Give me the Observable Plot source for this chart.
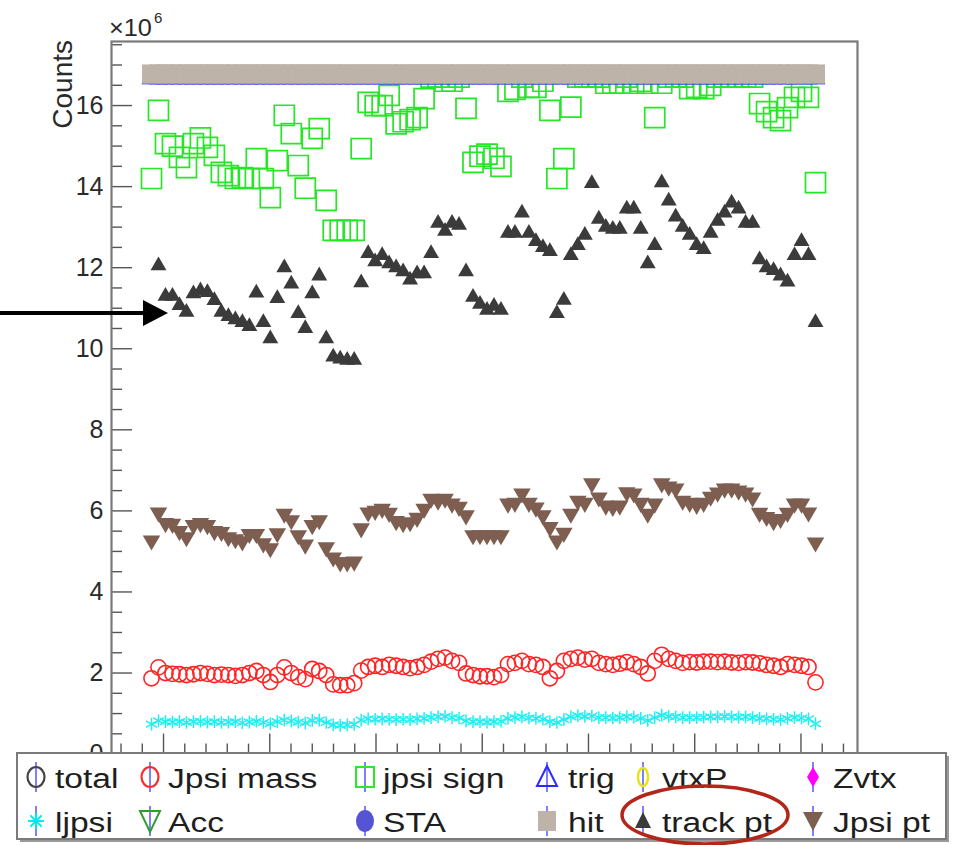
<!DOCTYPE html>
<html>
<head>
<meta charset="utf-8">
<script src="https://cdn.jsdelivr.net/npm/d3@7"></script>
<script src="https://cdn.jsdelivr.net/npm/@observablehq/plot@0.6"></script>
<style>
  html, body { margin: 0; padding: 0; background: #fff; }
  #wrap { position: relative; width: 959px; height: 845px; overflow: hidden; }
  #wrap > svg { position: absolute; left: 0; top: 0; }
</style>
</head>
<body>
<div id="wrap"></div>
<script>
// ---------- data (values in units of 10^6 counts), one entry per run index ----------
const runs = d3.range(96);

const trackPt = [null,12.05,11.3,11.3,11.07,10.9,11.36,11.43,11.39,11.19,
 10.9,10.8,10.72,10.65,10.55,11.38,10.65,10.25,11.24,12.0,
 11.6,10.87,10.5,11.36,11.8,10.25,9.8,9.75,9.72,9.72,
 11.63,12.35,12.15,12.3,12.1,12.0,11.9,11.7,11.85,11.85,
 12.35,13.1,12.9,13.1,13.05,11.9,11.27,11.1,10.95,11.05,
 10.95,12.85,12.85,13.35,12.85,12.65,12.5,12.4,10.87,11.2,
 12.3,12.55,12.8,14.08,13.2,13.0,12.95,12.95,13.45,13.45,
 12.95,12.1,12.55,14.1,13.65,13.25,13.0,12.8,12.55,12.45,
 12.85,13.15,13.35,13.6,13.45,13.1,13.1,12.2,12.0,11.93,
 11.8,11.65,12.3,12.65,12.3,10.65];

const jpsiPt = [5.27,5.96,5.7,5.68,5.5,5.35,5.65,5.7,5.65,5.5,
 5.48,5.35,5.3,5.25,5.43,5.43,5.2,5.08,5.45,5.93,
 5.77,5.4,5.17,5.65,5.77,5.1,4.85,4.73,4.73,4.75,
 5.57,5.96,6.0,6.05,5.95,5.75,5.7,5.72,5.83,6.05,
 6.3,6.25,6.3,6.18,6.1,5.89,5.4,5.4,5.4,5.4,
 5.4,6.18,6.2,6.43,6.2,6.08,5.89,5.6,5.27,5.46,
 5.93,6.25,6.2,6.68,6.33,6.13,6.1,6.13,6.46,6.43,
 6.2,5.93,6.18,6.68,6.6,6.55,6.25,6.2,6.15,6.2,
 6.35,6.45,6.55,6.55,6.5,6.45,6.33,5.95,5.85,5.75,
 5.8,5.95,6.18,6.18,5.96,5.22];

const jpsiSign = [14.2,15.88,15.06,15.0,14.72,14.47,15.06,15.2,14.97,14.77,
 14.35,14.27,14.2,14.22,14.2,14.69,14.2,13.73,14.64,15.76,
 15.31,14.52,13.96,15.19,15.43,13.66,12.92,12.92,12.92,12.92,
 14.94,16.08,16.0,16.0,16.25,15.55,15.6,15.65,15.7,16.17,
 16.7,16.7,16.6,16.6,16.7,15.93,14.6,14.75,14.8,14.7,
 14.5,16.35,16.4,16.7,16.45,16.45,16.6,15.88,14.2,14.69,
 15.96,16.7,16.7,16.7,16.7,16.55,16.55,16.55,16.7,16.55,
 16.6,16.55,15.7,16.55,16.7,16.7,16.7,16.42,16.45,16.42,
 16.5,16.7,16.7,16.7,16.7,16.7,16.7,16.05,15.85,15.7,
 15.63,15.95,16.2,16.35,16.2,14.1];

const jpsiMass = [1.87,2.14,2.0,1.98,1.97,1.95,1.97,2.0,1.98,1.95,
 1.96,1.95,1.93,1.95,2.0,2.05,1.95,1.78,1.95,2.14,
 2.0,1.9,1.85,2.1,2.05,1.95,1.72,1.7,1.7,1.75,
 2.06,2.15,2.18,2.15,2.2,2.18,2.15,2.12,2.15,2.2,
 2.28,2.35,2.38,2.3,2.25,1.99,1.95,1.92,1.92,1.9,
 1.95,2.22,2.25,2.3,2.22,2.2,2.15,1.87,2.05,2.3,
 2.35,2.38,2.33,2.35,2.25,2.22,2.2,2.23,2.27,2.22,
 2.15,1.99,2.3,2.45,2.35,2.3,2.25,2.27,2.26,2.28,
 2.28,2.27,2.28,2.26,2.25,2.27,2.26,2.24,2.2,2.18,
 2.15,2.22,2.2,2.18,2.15,1.77];

const ljpsi = [0.74,0.82,0.8,0.79,0.8,0.78,0.8,0.81,0.79,0.8,
 0.78,0.79,0.8,0.77,0.79,0.81,0.78,0.75,0.8,0.84,
 0.82,0.79,0.77,0.83,0.84,0.78,0.72,0.71,0.72,0.73,
 0.84,0.87,0.86,0.87,0.86,0.85,0.86,0.85,0.87,0.88,
 0.9,0.92,0.93,0.9,0.89,0.82,0.8,0.8,0.79,0.8,
 0.81,0.88,0.9,0.92,0.89,0.88,0.86,0.8,0.78,0.85,
 0.92,0.95,0.93,0.94,0.9,0.9,0.89,0.9,0.92,0.91,
 0.88,0.83,0.9,0.96,0.93,0.92,0.9,0.9,0.9,0.91,
 0.92,0.92,0.93,0.92,0.91,0.92,0.9,0.88,0.87,0.86,
 0.85,0.88,0.9,0.89,0.87,0.75];

// total / vtxP / Zvtx / Acc / STA / hit all sit on the same plateau
const eventCounts = [16.78,16.78,16.78,16.78,16.78,16.78,16.78,16.78,16.78,16.78,
 16.78,16.78,16.78,16.78,16.78,16.78,16.78,16.78,16.78,16.78,
 16.78,16.78,16.78,16.78,16.78,16.78,16.78,16.78,16.78,16.78,
 16.78,16.78,16.78,16.78,16.78,16.78,16.78,16.78,16.78,16.78,
 16.78,16.78,16.78,16.78,16.78,16.78,16.78,16.78,16.78,16.78,
 16.78,16.78,16.78,16.78,16.78,16.78,16.78,16.78,16.78,16.78,
 16.78,16.78,16.78,16.78,16.78,16.78,16.78,16.78,16.78,16.78,
 16.78,16.78,16.78,16.78,16.78,16.78,16.78,16.78,16.78,16.78,
 16.78,16.78,16.78,16.78,16.78,16.78,16.78,16.78,16.78,16.78,
 16.78,16.78,16.78,16.78,16.78,16.78];

const trigCounts = [16.67,16.67,16.67,16.67,16.67,16.67,16.67,16.67,16.67,16.67,
 16.67,16.67,16.67,16.67,16.67,16.67,16.67,16.67,16.67,16.67,
 16.67,16.67,16.67,16.67,16.67,16.67,16.67,16.67,16.67,16.67,
 16.67,16.67,16.67,16.67,16.67,16.67,16.67,16.67,16.67,16.67,
 16.67,16.67,16.67,16.67,16.67,16.67,16.67,16.67,16.67,16.67,
 16.67,16.67,16.67,16.67,16.67,16.67,16.67,16.67,16.67,16.67,
 16.67,16.67,16.67,16.67,16.67,16.67,16.67,16.67,16.67,16.67,
 16.67,16.67,16.67,16.67,16.67,16.67,16.67,16.67,16.67,16.67,
 16.67,16.67,16.67,16.67,16.67,16.67,16.67,16.67,16.67,16.67,
 16.67,16.67,16.67,16.67,16.67,16.67];

// axis ticks
const yMajor = [0, 2, 4, 6, 8, 10, 12, 14, 16];
const yMinor = [0.5,1,1.5,2.5,3,3.5,4.5,5,5.5,6.5,7,7.5,8.5,9,9.5,10.5,11,11.5,12.5,13,13.5,14.5,15,15.5,16.5,17,17.5];
const xMajor = [1.72, 16.92, 32.12, 47.32, 62.52, 77.72, 92.92];
const xMinor = [-4.36,-1.32,4.76,7.8,10.84,13.88,19.96,23.0,26.04,29.08,35.16,38.2,41.24,44.28,
 50.36,53.4,56.44,59.48,65.56,68.6,71.64,74.68,80.76,83.8,86.84,89.88,95.96,99.0];
const xDomain = [-5.723, 101.01];
const yDomain = [0, 17.58];

const legendLabels = ["total","Jpsi mass","jpsi sign","trig","vtxP","Zvtx",
                      "ljpsi","Acc","STA","hit","track pt","Jpsi pt"];

// ---------- chart ----------
const FONT = "'Liberation Sans', Arial, Helvetica, sans-serif";
const triangleDown = {
  draw(ctx, size) {
    const y = Math.sqrt(size / (3 * Math.sqrt(3)));
    ctx.moveTo(0, 2 * y);
    ctx.lineTo(-Math.sqrt(3) * y, -y);
    ctx.lineTo(Math.sqrt(3) * y, -y);
    ctx.closePath();
  }
};
const series = (arr) => runs.map(i => ({run: i, v: arr[i]}));
const W = 959, H = 845, ML = 111, MR = 102, MT = 41, MB = 91.4;
const innerW = W - ML - MR, innerH = H - MT - MB;

const chart = Plot.plot({
  width: W, height: H,
  marginLeft: ML, marginRight: MR, marginTop: MT, marginBottom: MB,
  style: {fontFamily: FONT, fontSize: "25px", color: "#2a2a2a", background: "transparent"},
  x: {type: "linear", domain: xDomain, axis: null},
  y: {type: "linear", domain: yDomain},
  marks: [
    Plot.dot(series(eventCounts), {x: "run", y: "v", r: 7, stroke: "#444", strokeWidth: 1.2, fill: "none"}),
    Plot.dot(series(jpsiMass), {x: "run", y: "v", r: 7.6, stroke: "#ff2424", strokeWidth: 1.6, fill: "none"}),
    Plot.dot(series(jpsiSign), {x: "run", y: "v", symbol: "square", r: 11.3, stroke: "#26e626", strokeWidth: 1.7, fill: "none"}),
    Plot.dot(series(trigCounts), {x: "run", y: "v", symbol: "triangle", r: 7, stroke: "#2a2aff", strokeWidth: 1, fill: "none"}),
    Plot.dot(series(eventCounts), {x: "run", y: "v", symbol: "diamond", r: 5, stroke: "#e6e600", fill: "none"}),
    Plot.dot(series(eventCounts), {x: "run", y: "v", symbol: "diamond", r: 4, fill: "#ff00ff", stroke: "none"}),
    Plot.dot(series(ljpsi), {x: "run", y: "v", symbol: "asterisk", r: 6, stroke: "#22eef2", strokeWidth: 1.5}),
    Plot.dot(series(eventCounts), {x: "run", y: "v", symbol: triangleDown, r: 6, stroke: "#2e9e2e", fill: "none"}),
    Plot.dot(series(eventCounts), {x: "run", y: "v", r: 6, fill: "#5050d8", stroke: "none"}),
    Plot.dot(series(eventCounts), {x: "run", y: "v", symbol: "square", r: 10.72, fill: "#bdb3a9", stroke: "none"}),
    Plot.dot(series(trackPt), {x: "run", y: "v", symbol: "triangle", r: 5.9, fill: "#3b3b3b", stroke: "none"}),
    Plot.dot(series(jpsiPt), {x: "run", y: "v", symbol: triangleDown, r: 6.5, fill: "#7d5e50", stroke: "none"}),
    Plot.tickY(yMinor, {y: d => d, insetRight: innerW - 11, stroke: "#555", strokeWidth: 1.4}),
    Plot.tickY(yMajor, {y: d => d, insetRight: innerW - 21, stroke: "#555", strokeWidth: 1.4}),
    Plot.tickX(xMinor, {x: d => d, insetTop: innerH - 10, stroke: "#555", strokeWidth: 1.4}),
    Plot.tickX(xMajor, {x: d => d, insetTop: innerH - 20, stroke: "#555", strokeWidth: 1.4}),
    Plot.frame({stroke: "#7a7a7a", strokeWidth: 2.2}),
    Plot.axisY({ticks: yMajor, tickSize: 0, tickPadding: 8, label: null, tickFormat: d => String(d), fontSize: 25})
  ]
});
document.getElementById("wrap").appendChild(chart);

// ---------- overlay: exponent, axis title, legend, annotations ----------
const ov = d3.select("#wrap").append("svg")
  .attr("width", W).attr("height", H)
  .style("pointer-events", "none")
  .style("font-family", FONT);

ov.append("text").attr("transform", "translate(109,36) scale(1.1,1)").attr("fill", "#2a2a2a")
  .attr("font-size", 23).text("\u00d710");
ov.append("text").attr("x", 154).attr("y", 23).attr("fill", "#2a2a2a")
  .attr("font-size", 15).text("6");

ov.append("text").attr("transform", "translate(72,40) rotate(-90)")
  .attr("text-anchor", "end").attr("fill", "#2a2a2a").attr("font-size", 28).text("Counts");

// legend box
ov.append("rect").attr("x", 20).attr("y", 756).attr("width", 929).attr("height", 86).attr("fill", "#9a9a9a");
ov.append("rect").attr("x", 17).attr("y", 753).attr("width", 929).attr("height", 86)
  .attr("fill", "#fff").attr("stroke", "#7a7a7a").attr("stroke-width", 2);

const markerX = [36, 150, 365, 547, 643, 813];
const textX = [55, 168, 383, 568, 662, 833];
const rowY = [777, 821];
const baseY = [788, 832];
const icons = [
  g => g.append("ellipse").attr("rx", 8.5).attr("ry", 10).attr("fill", "none").attr("stroke", "#444").attr("stroke-width", 2.2),
  g => g.append("ellipse").attr("rx", 8.5).attr("ry", 10).attr("fill", "none").attr("stroke", "#ff2a2a").attr("stroke-width", 2.2),
  g => g.append("rect").attr("x", -9).attr("y", -10).attr("width", 18).attr("height", 20).attr("fill", "none").attr("stroke", "#2ee62e").attr("stroke-width", 2),
  g => g.append("polygon").attr("points", "0,-11 -10,9 10,9").attr("fill", "none").attr("stroke", "#2a2aff").attr("stroke-width", 2),
  g => g.append("ellipse").attr("rx", 5).attr("ry", 9).attr("fill", "none").attr("stroke", "#e8e41a").attr("stroke-width", 2.5),
  g => g.append("polygon").attr("points", "0,-10 6,0 0,10 -6,0").attr("fill", "#ff00ff"),
  g => { [0, 45, 90, 135].forEach(a => g.append("line").attr("x1", -8).attr("x2", 8).attr("transform", `rotate(${a})`).attr("stroke", "#00e8f0").attr("stroke-width", 2)); },
  g => g.append("polygon").attr("points", "-10,-10 10,-10 0,11").attr("fill", "none").attr("stroke", "#2e9e2e").attr("stroke-width", 2),
  g => g.append("ellipse").attr("rx", 9).attr("ry", 11).attr("fill", "#5454d4"),
  g => g.append("rect").attr("x", -9).attr("y", -10).attr("width", 18).attr("height", 20).attr("fill", "#bdb3a9"),
  g => g.append("polygon").attr("points", "0,-9 -8,7 8,7").attr("fill", "#3b3b3b"),
  g => g.append("polygon").attr("points", "-10,-9 10,-9 0,10").attr("fill", "#7d5e50")
];
legendLabels.forEach((label, k) => {
  const col = k % 6, row = Math.floor(k / 6);
  const g = ov.append("g").attr("transform", `translate(${markerX[col]},${rowY[row]})`);
  g.append("line").attr("y1", -15).attr("y2", 15).attr("stroke", "#3a3aff").attr("stroke-width", 1.3);
  icons[k](g);
  ov.append("text").attr("transform", `translate(${textX[col]},${baseY[row]}) scale(1.2,1)`)
    .attr("font-size", 28).attr("fill", "#1e1e1e").text(label);
});

// annotations
ov.append("ellipse").attr("cx", 705).attr("cy", 815).attr("rx", 83).attr("ry", 29)
  .attr("fill", "none").attr("stroke", "#b3261a").attr("stroke-width", 3.5);
ov.append("line").attr("x1", 0).attr("x2", 146).attr("y1", 313).attr("y2", 313)
  .attr("stroke", "#000").attr("stroke-width", 4);
ov.append("polygon").attr("points", "143,300 168,313 143,326").attr("fill", "#000");
</script>
</body>
</html>
